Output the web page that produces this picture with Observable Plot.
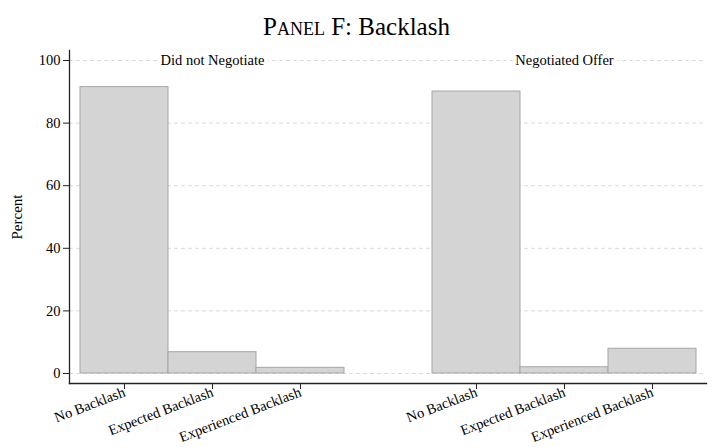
<!DOCTYPE html>
<html><head><meta charset="utf-8">
<script src="https://cdn.jsdelivr.net/npm/d3@7"></script>
<script src="https://cdn.jsdelivr.net/npm/@observablehq/plot@0.6"></script>
<style>
body{margin:0;background:#fff;}
#title{height:44px;text-align:center;font-family:"Liberation Serif",serif;font-size:25px;line-height:30px;padding-top:12px;box-sizing:border-box;color:#000;}
</style></head><body>
<div id="title"><span style="font-variant:small-caps">Panel F</span>: Backlash</div>
<div id="chart"></div>
<script>
const groups = ["Did not Negotiate", "Negotiated Offer"];
const categories = ["No Backlash", "Expected Backlash", "Experienced Backlash"];
const didNotNegotiate = [91.5, 6.8, 1.8];
const negotiatedOffer = [90.1, 2.0, 7.9];
const yTicks = [0, 20, 40, 60, 80, 100];

const seriesByGroup = [didNotNegotiate, negotiatedOffer];
const key = (g, c) => g + "|" + c;
const slots = [
  ...categories.map(c => key(0, c)),
  "gap",
  ...categories.map(c => key(1, c))
];
const tickKeys = slots.filter(s => s !== "gap");
const data = [];
groups.forEach((g, gi) => categories.forEach((c, ci) => data.push({slot: key(gi, c), value: seriesByGroup[gi][ci]})));
const panels = groups.map((g, gi) => ({slot: key(gi, categories[1]), label: g}));
const FONT = "Liberation Serif";
const FS = 14.5;

const chart = Plot.plot({
  width: 713,
  height: 403,
  marginTop: 6,
  marginBottom: 64,
  marginLeft: 69,
  marginRight: 7,
  style: "font-family: 'Liberation Serif', serif; font-size: 14.5px; color: #000; background: #fff;",
  x: {type: "band", domain: slots, padding: 0, insetLeft: 10, insetRight: 9, label: null},
  y: {domain: [-3.2, 103.2], label: null},
  marks: [
    Plot.gridY(yTicks, {stroke: "#dadada", strokeOpacity: 1, strokeDasharray: "4,3"}),
    Plot.barY(data, {x: "slot", y: "value", fill: "#d4d4d4", stroke: "#a6a6a6", strokeWidth: 1}),
    Plot.text(panels, {x: "slot", y: 100, text: "label", fill: "#000", stroke: "#fff", strokeWidth: 8, paintOrder: "stroke", fontSize: FS, fontFamily: FONT}),
    Plot.axisY(yTicks, {tickSize: 6, tickPadding: 3, label: null, stroke: "#222", fontSize: FS, fontFamily: FONT}),
    Plot.axisX(tickKeys, {tickSize: 6, tickPadding: 2, tickRotate: -21, tickFormat: d => d.split("|")[1], label: null, stroke: "#222", fontSize: FS, fontFamily: FONT}),
    Plot.frame({anchor: "left", stroke: "#222", strokeWidth: 1.3}),
    Plot.frame({anchor: "bottom", stroke: "#222", strokeWidth: 1.3}),
    Plot.text(["Percent"], {frameAnchor: "left", rotate: -90, dx: -52, textAnchor: "middle", lineAnchor: "middle", fontSize: 15, fill: "#000", fontFamily: FONT})
  ]
});
document.getElementById("chart").appendChild(chart);
</script>
</body></html>
